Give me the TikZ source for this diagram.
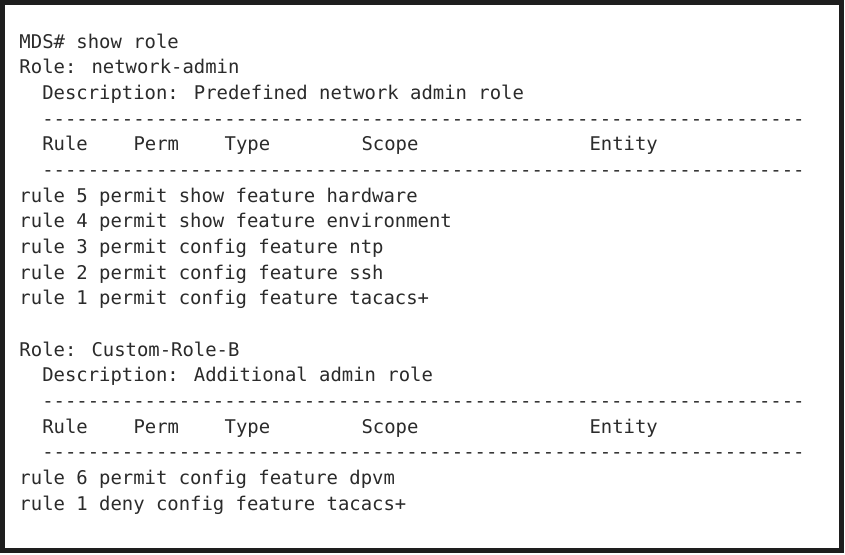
\documentclass[tikz,border=0pt]{standalone}
\usepackage{fontspec}
\newfontfamily\term[Ligatures=TeXOff]{DejaVu Sans Mono}
\definecolor{ink}{HTML}{2B2B2B}
\definecolor{frame}{HTML}{1E1E1E}
\tikzset{
  line/.style={anchor=base west, inner sep=0pt, outer sep=0pt, text=ink,
    font=\term\fontsize{18.9}{20}\selectfont},
  border/.style={draw=frame, line width=5pt}
}
\newcommand\dashrow{-------------------------------------------------------------------}
\begin{document}
\begin{tikzpicture}[x=1pt,y=-1pt]
\useasboundingbox (0,0) rectangle (845,554);
\fill[white] (0,0) rectangle (845,554);
\draw[border] (2.5,2.5) rectangle (841.5,550.5);
% column unit 11.4, origin 19.5
\node[line] (l0) at (19.5,48.3) {MDS\# show role};
\node[line] (l1) at (19.5,73.95) {Role: network-admin};
\node[line] (l2) at (42.3,99.6) {Description: Predefined network admin role};
\node[line] (l3) at (42.3,125.25) {\dashrow};
\node[line] (h1a) at (42.3,150.9) {Rule};
\node[line] (h1b) at (133.5,150.9) {Perm};
\node[line] (h1c) at (224.7,150.9) {Type};
\node[line] (h1d) at (361.5,150.9) {Scope};
\node[line] (h1e) at (589.5,150.9) {Entity};
\node[line] (l5) at (42.3,176.55) {\dashrow};
\node[line] (l6) at (19.5,202.2) {rule 5 permit show feature hardware};
\node[line] (l7) at (19.5,227.85) {rule 4 permit show feature environment};
\node[line] (l8) at (19.5,253.5) {rule 3 permit config feature ntp};
\node[line] (l9) at (19.5,279.15) {rule 2 permit config feature ssh};
\node[line] (l10) at (19.5,304.8) {rule 1 permit config feature tacacs+};
\node[line] (l12) at (19.5,356.1) {Role: Custom-Role-B};
\node[line] (l13) at (42.3,381.75) {Description: Additional admin role};
\node[line] (l14) at (42.3,407.4) {\dashrow};
\node[line] (h2a) at (42.3,433.05) {Rule};
\node[line] (h2b) at (133.5,433.05) {Perm};
\node[line] (h2c) at (224.7,433.05) {Type};
\node[line] (h2d) at (361.5,433.05) {Scope};
\node[line] (h2e) at (589.5,433.05) {Entity};
\node[line] (l16) at (42.3,458.7) {\dashrow};
\node[line] (l17) at (19.5,484.35) {rule 6 permit config feature dpvm};
\node[line] (l18) at (19.5,510.0) {rule 1 deny config feature tacacs+};
\end{tikzpicture}
\end{document}
